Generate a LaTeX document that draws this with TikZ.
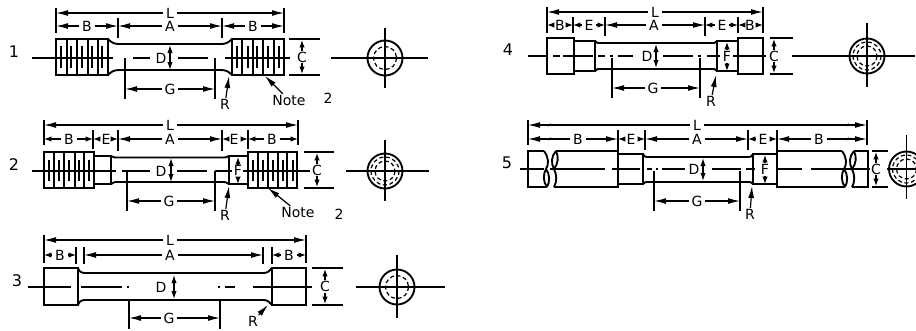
\documentclass[tikz,border=0pt]{standalone}
\usepackage{fontspec}
\setmainfont{DejaVu Sans}
\usetikzlibrary{arrows.meta}

\tikzstyle{part} = [line width=1.4pt]
\tikzstyle{thinline} = [line width=.9pt]
\tikzstyle{tooth} = [line width=1.5pt]
\tikzstyle{hidden} = [line width=.9pt, dash pattern=on 3pt off 2pt]
\tikzstyle{dim} = [line width=.9pt, -{Latex[length=9pt,width=4.4pt]}]
\tikzstyle{dims} = [line width=.9pt, -{Latex[length=5.5pt,width=4pt]}]
\tikzstyle{dimd} = [line width=.9pt, {Latex[length=6pt,width=4pt]}-{Latex[length=6pt,width=4pt]}]
\tikzstyle{lab} = [inner sep=2pt, font=\fontsize{10.5}{12}\selectfont]
\tikzstyle{num} = [inner sep=0pt, font=\fontsize{12}{14}\selectfont]

% name, x1, x2, y, label x, label
\newcommand{\dimh}[7][dim]{
  \coordinate (#2a) at (#3,#5);
  \coordinate (#2b) at (#4,#5);
  \node [lab] (#2) at (#6,#5) {#7};
  \draw [#1] (#2) -- (#2a);
  \draw [#1] (#2) -- (#2b);
}
% name, x, y1, y2, label
\newcommand{\dimv}[6][dims]{
  \coordinate (#2a) at (#3,#4);
  \coordinate (#2b) at (#3,#5);
  \node [lab, inner sep=.5pt] (#2) at (#3,{(#4+#5)/2}) {#6};
  \draw [#1] (#2) -- (#2a);
  \draw [#1] (#2) -- (#2b);
}
% name, x, y1, y2
\newcommand{\arrv}[4]{
  \coordinate (#1a) at (#2,#3);
  \coordinate (#1b) at (#2,#4);
  \draw [dimd] (#1a) -- (#1b);
}
% name, label position, tip, text
\newcommand{\leader}[4]{
  \node [lab, inner sep=.5pt] (#1) at (#2) {#4};
  \coordinate (#1tip) at (#3);
  \draw [dim] (#1) -- (#1tip);
}
% name, x, y, hidden radii, x1, x2, y1, y2
\newcommand{\sideview}[8]{
  \coordinate (#1) at (#2,#3);
  \draw [part] (#1) circle (17.5);
  \foreach \r in {#4} \draw [hidden] (#1) circle (\r);
  \draw [thinline] (#5,#3) -- (#6,#3);
  \draw [thinline] (#2,#7) -- (#2,#8);
}

\begin{document}
\begin{tikzpicture}[x=.75pt,y=-.75pt]
  \useasboundingbox (0,0) rectangle (916,330);
  \clip (0,0) rectangle (916,330);

  % specimen 1
  \node [num] (no1) at (14,52) {1};
  \dimh{L1}{56}{284}{13}{170}{L}
  \dimh{B1l}{56}{118}{26}{87}{B}
  \dimh{A1}{118}{222}{26}{170}{A}
  \dimh{B1r}{222}{284}{26}{253}{B}
  \foreach \x/\a/\b in {56/8/33,284/8/33,118/18/38,222/18/38,125/58/99,215/58/99}
    \draw [thinline] (\x,\a) -- (\x,\b);
  \draw [part] (56,39) rectangle (108,75);
  \draw [part] (232,39) rectangle (284,75);
  \draw [part] (108,39) .. controls (112,43) and (114,44) .. (120,44) -- (220,44) .. controls (226,44) and (228,43) .. (232,39);
  \draw [part] (108,75) .. controls (112,71) and (114,70) .. (120,70) -- (220,70) .. controls (226,70) and (228,71) .. (232,75);
  \foreach \x in {67,77,88,98,242,253,263,274} \draw [thinline] (\x,39) -- (\x,75);
  \foreach \x in {61,71,82,92,102,237,248,257,268,279} \draw [tooth] (\x,46) -- (\x,68);
  \draw [thinline] (32,58) -- (113,58) (133,58) -- (150,58) (178,58) -- (208,58) (225,58) -- (290,58);
  \node [lab] (D1) at (161,58) {D};
  \arrv{Dd1}{170}{45}{70}
  \foreach \y in {39,75} \draw [thinline] (289,\y) -- (320,\y);
  \dimv{C1}{302}{40}{74}{C}
  \dimh{G1}{125}{215}{89}{170}{G}
  \leader{R1}{225,104}{229,76}{R}
  \leader{Note1}{289,100}{265,76}{Note}
  \node [lab] (nt1) at (328,98) {2};
  \sideview{v1}{385}{58}{11.5}{331}{428}{28}{88}

  % specimen 2
  \node [num] (no2) at (14,165) {2};
  \dimh{L2}{44}{298}{125}{170}{L}
  \dimh[dims]{B2l}{44}{93}{139}{69}{B}
  \dimh[dims]{E2l}{93}{118}{139}{106}{E}
  \dimh{A2}{118}{222}{139}{170}{A}
  \dimh[dims]{E2r}{222}{248}{139}{234}{E}
  \dimh[dims]{B2r}{248}{298}{139}{272}{B}
  \foreach \x/\a/\b in {44/120/145,298/120/145,93/130/149,118/130/151,222/130/151,248/130/149,127/171/211,215/171/211}
    \draw [thinline] (\x,\a) -- (\x,\b);
  \draw [part] (44,152) rectangle (94,188);
  \draw [part] (248,152) rectangle (297,188);
  \draw [part] (94,156) rectangle (111,184);
  \draw [part] (229,156) rectangle (248,184);
  \draw [part] (111,156) .. controls (114,157.5) .. (119,157.5) -- (221,157.5) .. controls (226,157.5) .. (229,156);
  \draw [part] (111,184) .. controls (114,182) .. (119,182) -- (221,182) .. controls (226,182) .. (229,184);
  \foreach \x in {54,64,75,84,258,268,278,287} \draw [thinline] (\x,152) -- (\x,188);
  \foreach \x in {49,59,69,79,89,253,263,273,283,293} \draw [tooth] (\x,160) -- (\x,181);
  \draw [thinline] (32,171) -- (116,171) (122,171) -- (150,171) (177,171) -- (207,171) (215,171) -- (232,171) (243,171) -- (310,171);
  \node [lab] (D2) at (161,171) {D};
  \arrv{Dd2}{171}{158}{182}
  \dimv{F2}{238}{157}{184}{F}
  \foreach \y in {152,188} \draw [thinline] (304,\y) -- (334,\y);
  \dimv{C2}{317}{153}{187}{C}
  \dimh{G2}{127}{215}{201}{169}{G}
  \leader{R2}{225,215}{229,186}{R}
  \leader{Note2}{298,212}{268,188}{Note}
  \node [lab] (nt2) at (339,214) {2};
  \sideview{v2}{385}{171}{14,10}{346}{429}{140}{201}

  % specimen 3
  \node [num] (no3) at (17,281) {3};
  \dimh{L3}{44}{306}{240}{170}{L}
  \dimh[dims]{B3l}{44}{76}{255}{60}{B}
  \dimh{A3}{84}{263}{255}{170}{A}
  \dimh[dims]{B3r}{272}{306}{255}{289}{B}
  \foreach \x/\a/\b in {44/235/263,76/247/264,84/247/264,263/247/264,272/247/264,306/235/263,129/300/329,220/300/329}
    \draw [thinline] (\x,\a) -- (\x,\b);
  \draw [part] (44,268) rectangle (78,305);
  \draw [part] (272,268) rectangle (306,305);
  \draw [part] (78,268) .. controls (80,272) .. (84,273) -- (264,273) .. controls (268,273) and (270,270) .. (272,268);
  \draw [part] (78,305) .. controls (80,301) .. (84,300) -- (264,300) .. controls (268,300) and (270,303) .. (272,305);
  \draw [thinline] (28,287) -- (71,287) (81,287) -- (122,287) (127,287) -- (129,287) (218,287) -- (220,287) (225,287) -- (235,287) (253,287) -- (312,287);
  \node [lab] (D3) at (161,287) {D};
  \arrv{Dd3}{174}{275}{299}
  \foreach \y in {268,305} \draw [thinline] (312,\y) -- (343,\y);
  \dimv{C3}{325}{269}{304}{C}
  \dimh{G3}{129}{220}{318}{169}{G}
  \leader{R3}{253,321}{268,305}{R}
  \sideview{v3}{397}{287}{11.5}{356}{445}{255}{318}

  % specimen 4
  \node [num] (no4) at (508,50) {4};
  \dimh{L4}{547}{763}{12}{655}{L}
  \dimh[dims]{B4l}{547}{573}{25}{560}{B}
  \dimh[dims]{E4l}{573}{605}{25}{589}{E}
  \dimh{A4}{605}{705}{25}{654}{A}
  \dimh[dims]{E4r}{705}{738}{25}{722}{E}
  \dimh[dims]{B4r}{738}{763}{25}{750}{B}
  \foreach \x/\a/\b in {547/7/33,763/7/33,573/17/33,605/17/36,705/17/36,738/17/33,612/58/98,700/58/98}
    \draw [thinline] (\x,\a) -- (\x,\b);
  \draw [part] (547,38) rectangle (574,74);
  \draw [part] (738,38) rectangle (763,74);
  \draw [part] (574,41) rectangle (595,71);
  \draw [part] (717,41) rectangle (738,71);
  \draw [part] (595,41) .. controls (597,43) .. (601,43) -- (711,43) .. controls (715,43) .. (717,41);
  \draw [part] (595,71) .. controls (597,69) .. (601,69) -- (711,69) .. controls (715,69) .. (717,71);
  \draw [thinline] (528,56) -- (547,56) (553,56) -- (560,56) (563,56) -- (593,56) (598,56) -- (605,56) (610,56) -- (613,56) (618,56) -- (633,56) (663,56) -- (693,56) (698,56) -- (701,56) (707,56) -- (720,56) (733,56) -- (766,56);
  \node [lab] (D4) at (647,56) {D};
  \arrv{Dd4}{656}{44}{68}
  \dimv{F4}{727}{42}{71}{F}
  \foreach \y in {38,74} \draw [thinline] (770,\y) -- (793,\y);
  \dimv{C4}{774}{39}{73}{C}
  \dimh{G4}{612}{700}{88}{653}{G}
  \leader{R4}{711,101}{716,75}{R}
  \sideview{v4}{867}{56}{14,10}{792}{915}{23}{87}

  % specimen 5
  \node [num] (no5) at (507,163) {5};
  \dimh{L5}{528}{867}{125}{697}{L}
  \dimh{B5l}{528}{618}{139}{578}{B}
  \dimh[dims]{E5l}{618}{645}{139}{631}{E}
  \dimh{A5}{645}{748}{139}{697}{A}
  \dimh[dims]{E5r}{748}{777}{139}{763}{E}
  \dimh{B5r}{777}{867}{139}{819}{B}
  \foreach \x/\a/\b in {528/120/145,867/120/145,618/130/150,645/130/150,748/130/150,777/130/150,654/171/211,740/171/211}
    \draw [thinline] (\x,\a) -- (\x,\b);
  \foreach \s in {0,298} {
    \begin{scope}[shift={(\s,0)}]
      \foreach \y in {125,139} \draw [thinline] (548,\y+1) .. controls (550,\y+1) and (549,\y-1.5) .. (551,\y-1);
      \draw [part] (544,151) .. controls (549,158) and (549,164) .. (546,169) .. controls (543,174) and (543,182) .. (547,187);
      \draw [part] (546,169) .. controls (550,174) and (550,182) .. (547,187);
      \draw [part] (556,151) .. controls (551,156) and (551,164) .. (554,169) .. controls (557,175) and (557,182) .. (554,187);
      \draw [part] (556,151) .. controls (559,157) and (558,164) .. (554,169);
    \end{scope}
  }
  \draw [part] (544,151) -- (528,151) -- (528,187) -- (547,187);
  \draw [part] (556,151) -- (618,151) -- (618,187) -- (554,187);
  \draw [part] (842,151) -- (777,151) -- (777,187) -- (845,187);
  \draw [part] (854,151) -- (868,151) -- (868,187) -- (852,187);
  \draw [part] (618,154) rectangle (643,184);
  \draw [part] (753,154) rectangle (777,184);
  \draw [part] (643,154) .. controls (645,157) .. (649,157) -- (748,157) .. controls (751,157) .. (753,154);
  \draw [part] (643,184) .. controls (645,182) .. (649,182) -- (748,182) .. controls (751,182) .. (753,184);
  \draw [thinline] (520,169) -- (544,169) (550,169) -- (605,169) (612,169) -- (640,169) (647,169) -- (652,169) (656,169) -- (658,169) (662,169) -- (685,169) (712,169) -- (741,169) (746,169) -- (755,169) (778,169) -- (802,169) (811,169) -- (870,169);
  \node [lab] (D5) at (694,169) {D};
  \arrv{Dd5}{703}{158}{181}
  \dimv{F5}{765}{155}{184}{F}
  \foreach \y in {151,187} \draw [thinline] (872,\y) -- (888,\y);
  \dimv{C5}{876}{152}{186}{C}
  \dimh{G5}{654}{740}{201}{697}{G}
  \leader{R5}{750,214}{752,186}{R}
  \sideview{v5}{906.5}{169}{14,10}{887}{930}{135}{199}
\end{tikzpicture}
\end{document}
